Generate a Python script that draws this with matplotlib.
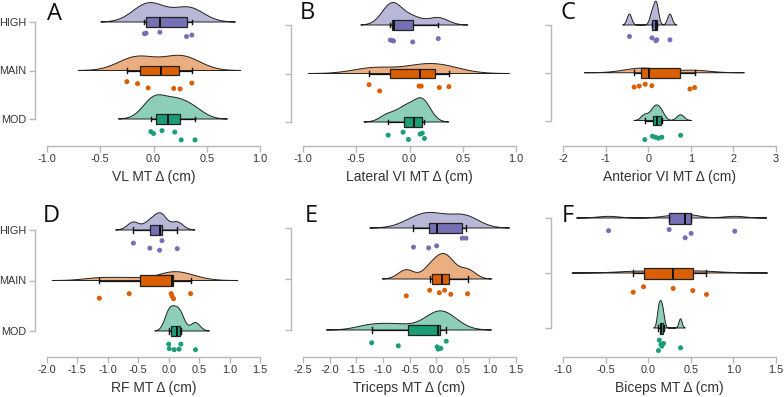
import numpy as np
import matplotlib
matplotlib.use('Agg')
import matplotlib.pyplot as plt
from matplotlib.colors import to_rgba

plt.rcParams['font.family'] = ['Liberation Sans', 'DejaVu Sans']
plt.rcParams['axes.unicode_minus'] = False

groups = ['MOD', 'MAIN', 'HIGH']          # bottom -> top
colors = {'HIGH': '#7570B3', 'MAIN': '#D95F02', 'MOD': '#1B9E77'}

# ---------------- data ----------------
# Panel A : VL
a_high = [-0.085, -0.07, 0.06, 0.31, 0.36]
a_main = [-0.25, -0.15, -0.05, 0.19, 0.25, 0.36]
a_mod = [-0.025, 0.0, 0.08, 0.2, 0.26, 0.39]
a_high_jit = [0.24, 0.23, 0.21, 0.30, 0.27]
a_main_jit = [0.23, 0.27, 0.36, 0.37, 0.38, 0.26]
a_mod_jit = [0.26, 0.30, 0.24, 0.27, 0.43, 0.43]

# Panel B : Lateral VI
b_high = [-0.18, -0.16, -0.15, 0.03, 0.27]
b_main = [-0.38, -0.28, 0.09, 0.11, 0.28, 0.37]
b_mod = [-0.2, -0.06, -0.01, 0.10, 0.12, 0.14]
b_high_jit = [0.31, 0.32, 0.33, 0.35, 0.28]
b_main_jit = [0.23, 0.36, 0.26, 0.26, 0.29, 0.27]
b_mod_jit = [0.27, 0.21, 0.36, 0.25, 0.23, 0.34]

# Panel C : Anterior VI
c_high = [-0.44, 0.09, 0.18, 0.20, 0.51]
c_main = [-0.33, -0.21, -0.07, 0.085, 0.98, 1.09]
c_mod = [-0.08, 0.10, 0.17, 0.24, 0.32, 0.76]
c_high_jit = [0.24, 0.27, 0.33, 0.31, 0.31]
c_main_jit = [0.30, 0.28, 0.24, 0.27, 0.34, 0.31]
c_mod_jit = [0.40, 0.33, 0.35, 0.37, 0.35, 0.31]

# Panel D : RF
d_high = [-0.58, -0.31, -0.15, -0.11, 0.14]
d_main = [-1.14, -0.65, 0.04, 0.055, 0.08, 0.36]
d_mod = [0.0, 0.01, 0.09, 0.17, 0.20, 0.44]
d_high_jit = [0.26, 0.36, 0.40, 0.21, 0.37]
d_main_jit = [0.35, 0.26, 0.26, 0.31, 0.36, 0.26]
d_mod_jit = [0.26, 0.35, 0.37, 0.36, 0.26, 0.37]

# Panel E : Triceps
e_high = [-0.425, -0.14, 0.01, 0.49, 0.56]
e_main = [-0.56, -0.12, 0.06, 0.16, 0.275, 0.59]
e_mod = [-1.21, -0.71, 0.02, 0.04, 0.09, 0.19]
e_high_jit = [0.375, 0.39, 0.35, 0.20, 0.20]
e_main_jit = [0.33, 0.22, 0.27, 0.22, 0.30, 0.29]
e_mod_jit = [0.25, 0.31, 0.33, 0.375, 0.36, 0.22]

# Panel F : Biceps
f_high = [-0.465, 0.246, 0.434, 0.504, 1.016]
f_main = [-0.176, -0.055, 0.293, 0.523, 0.684]
f_mod = [0.12, 0.13, 0.15, 0.16, 0.18, 0.38]
f_high_jit = [0.23, 0.21, 0.36, 0.28, 0.24]
f_main_jit = [0.35, 0.25, 0.28, 0.32, 0.39]
f_mod_jit = [0.41, 0.22, 0.30, 0.33, 0.28, 0.36]

letters = ['A', 'B', 'C', 'D', 'E', 'F']
xlabels = ['VL MT \u0394 (cm)', 'Lateral VI MT \u0394 (cm)', 'Anterior VI MT \u0394 (cm)',
           'RF MT \u0394 (cm)', 'Triceps MT \u0394 (cm)', 'Biceps MT \u0394 (cm)']
xticks = [[-1.0, -0.5, 0.0, 0.5, 1.0],
          [-1.0, -0.5, 0.0, 0.5, 1.0],
          [-2, -1, 0, 1, 2, 3],
          [-2.0, -1.5, -1.0, -0.5, 0.0, 0.5, 1.0, 1.5],
          [-2.5, -2.0, -1.5, -1.0, -0.5, 0.0, 0.5, 1.0, 1.5],
          [-1.0, -0.5, 0.0, 0.5, 1.0, 1.5]]
tickfmt = ['{:.1f}', '{:.1f}', '{:d}', '{:.1f}', '{:.1f}', '{:.1f}']

panels = [
    {'HIGH': (a_high, a_high_jit), 'MAIN': (a_main, a_main_jit), 'MOD': (a_mod, a_mod_jit)},
    {'HIGH': (b_high, b_high_jit), 'MAIN': (b_main, b_main_jit), 'MOD': (b_mod, b_mod_jit)},
    {'HIGH': (c_high, c_high_jit), 'MAIN': (c_main, c_main_jit), 'MOD': (c_mod, c_mod_jit)},
    {'HIGH': (d_high, d_high_jit), 'MAIN': (d_main, d_main_jit), 'MOD': (d_mod, d_mod_jit)},
    {'HIGH': (e_high, e_high_jit), 'MAIN': (e_main, e_main_jit), 'MOD': (e_mod, e_mod_jit)},
    {'HIGH': (f_high, f_high_jit), 'MAIN': (f_main, f_main_jit), 'MOD': (f_mod, f_mod_jit)},
]

# ---------------- layout (pixels) ----------------
W, H = 784, 397
DPI = 100
lefts = [47, 303, 563, 47, 303, 563]
width = 213
spine_y = [146, 146, 146, 357, 357, 357]
top_y = [0, 0, 0, 200, 200, 200]
# pixel rows of HIGH and MOD baselines
high_px = [22, 25, 25, 230, 228, 218]
mod_px = [119, 122, 120.5, 331, 330, 328]
letter_pos = [(47, 20), (300, 19), (560, 19), (43, 222), (305, 222), (562, 222)]

GRAY = '#b8b8b8'
EDGE = '#222222'
MAXH = 0.5


def kde(vals):
    v = np.asarray(vals, float)
    n = len(v)
    sd = v.std(ddof=1)
    q75, q25 = np.percentile(v, [75, 25])
    bw = 0.9 * min(sd, (q75 - q25) / 1.34) * n ** -0.2
    x = np.linspace(v.min() - 3 * bw, v.max() + 3 * bw, 1024)
    d = np.exp(-0.5 * ((x[:, None] - v[None, :]) / bw) ** 2).sum(1) / (n * bw * np.sqrt(2 * np.pi))
    return x, d


fig = plt.figure(figsize=(W / DPI, H / DPI), dpi=DPI)

for i, pdata in enumerate(panels):
    sp = (mod_px[i] - high_px[i]) / 2.0
    y0 = 0 - (spine_y[i] - mod_px[i]) / sp
    y1 = 2 + (high_px[i] - top_y[i]) / sp
    ax = fig.add_axes([lefts[i] / W, 1 - spine_y[i] / H, width / W, (spine_y[i] - top_y[i]) / H])
    ax.set_xlim(xticks[i][0], xticks[i][-1])
    ax.set_ylim(y0, y1)

    dens = {g: kde(pdata[g][0]) for g in groups}
    dmax = max(d.max() for _, d in dens.values())
    scale = MAXH / dmax
    for pos, g in enumerate(groups):
        x, d = dens[g]
        xs = np.r_[x, x[::-1]]
        ys = np.r_[pos + d * scale, np.full_like(x, pos)]
        ax.fill(xs, ys, facecolor=to_rgba(colors[g], 0.5), edgecolor=EDGE, lw=0.7,
                zorder=1, clip_on=False)

    vals = [pdata[g][0] for g in groups]
    bp = ax.boxplot(vals, positions=range(3), vert=False, widths=0.2, patch_artist=True,
                    showfliers=False, whis=1.5, capwidths=0.1, manage_ticks=False,
                    medianprops=dict(color='#111111', lw=1.4),
                    whiskerprops=dict(color='#111111', lw=0.9),
                    capprops=dict(color='#111111', lw=1.0),
                    boxprops=dict(edgecolor='#222222', lw=0.9), zorder=3)
    for patch, g in zip(bp['boxes'], groups):
        patch.set_facecolor(colors[g])

    for pos, g in enumerate(groups):
        v, j = pdata[g]
        ax.scatter(v, pos - np.asarray(j), s=13, color=colors[g], edgecolors='none',
                   zorder=4, clip_on=False)

    # axes styling
    for s in ['top', 'right']:
        ax.spines[s].set_visible(False)
    ax.spines['left'].set_position(('outward', 8.6))
    ax.spines['left'].set_bounds(0, 2)
    ax.spines['bottom'].set_bounds(xticks[i][0], xticks[i][-1])
    for s in ['left', 'bottom']:
        ax.spines[s].set_color(GRAY)
        ax.spines[s].set_linewidth(1.0)
    ax.set_xticks(xticks[i])
    ax.set_xticklabels([tickfmt[i].format(t) for t in xticks[i]])
    ax.set_yticks(range(3))
    if i % 3 == 0:
        ax.set_yticklabels(groups)
    else:
        ax.set_yticklabels([])
    ax.tick_params(axis='both', colors=GRAY, labelcolor='#333333', labelsize=7.8, length=4,
                   width=1.0)
    ax.tick_params(axis='x', pad=2)
    ax.tick_params(axis='y', pad=2.5)
    ax.set_xlabel(xlabels[i], fontsize=10, color='#333333', labelpad=4)
    ax.patch.set_alpha(0)

    lx, ly = letter_pos[i]
    fig.text(lx / W, 1 - ly / H, letters[i], fontsize=17, family=['Open Sans', 'DejaVu Sans'],
             color='#111111', va='baseline', ha='left')

fig.savefig('out.png', dpi=DPI)
